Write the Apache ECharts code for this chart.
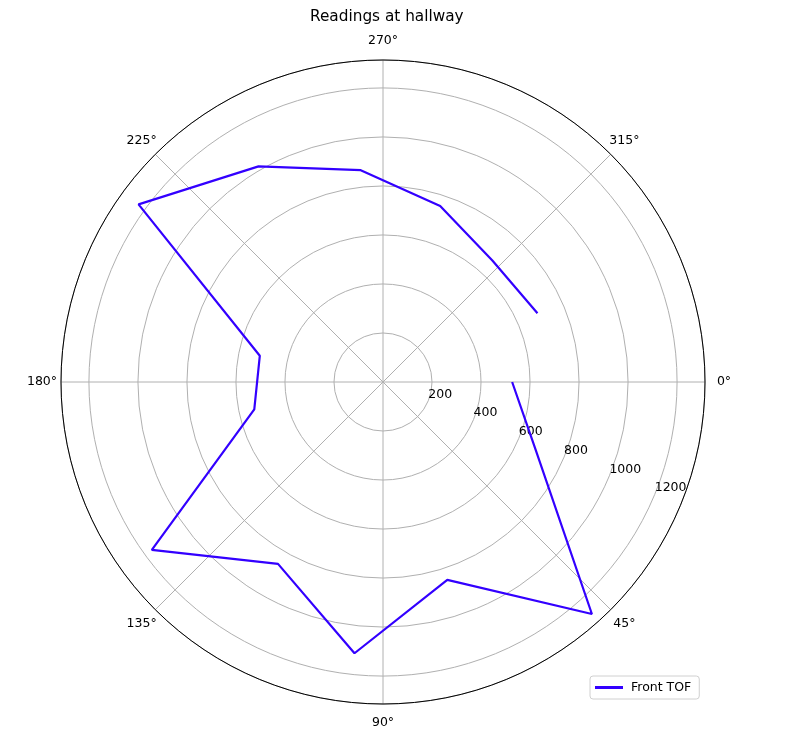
<!DOCTYPE html>
<html>
<head>
<meta charset="utf-8">
<script src="https://cdn.jsdelivr.net/npm/echarts@6/dist/echarts.min.js"></script>
<style>
html,body{margin:0;padding:0;background:#fff;}
#chart{width:802px;height:737px;}
</style>
</head>
<body>
<div id="chart"></div>
<script>
// Data
var angles = [0, 24, 48, 72, 96, 120, 144, 168, 192, 216, 240, 264, 288, 312, 336];
var frontTOF = [527, 682, 1274, 849, 1113, 857, 1166, 537, 514, 1233, 1016, 869, 755, 667, 690];
var seriesName = 'Front TOF';
var titleText = 'Readings at hallway';
var radialTicks = [200, 400, 600, 800, 1000, 1200];
var angleTicks = [0, 45, 90, 135, 180, 225, 270, 315];

var rMax = 1314;
var FONT = 'DejaVu Sans';

var chart = echarts.init(document.getElementById('chart'), null, {renderer: 'canvas'});
var center = [383, 382];
var radius = 322;

chart.setOption({
  animation: false,
  backgroundColor: '#fff',
  title: {
    text: titleText,
    left: 305,
    top: 5,
    textStyle: {fontFamily: FONT, fontSize: 15.3, fontWeight: 'normal', color: '#000'}
  },
  legend: {
    data: [seriesName],
    left: 590,
    top: 676,
    orient: 'vertical',
    padding: [5, 8, 5, 5],
    borderColor: '#d0d0d0',
    borderWidth: 1,
    borderRadius: 3,
    itemWidth: 28,
    itemHeight: 3,
    icon: 'rect',
    itemGap: 0,
    textStyle: {fontFamily: FONT, fontSize: 12.5, color: '#000', padding: [0, 0, 0, 3]}
  },
  polar: [
    {center: center, radius: radius},
    {center: center, radius: radius}
  ],
  angleAxis: [
    {
      polarIndex: 0,
      type: 'value',
      min: 0,
      max: 360,
      interval: 45,
      startAngle: 0,
      clockwise: true,
      axisLine: {show: true, lineStyle: {color: '#000', width: 1}},
      axisTick: {show: false},
      splitLine: {show: true, lineStyle: {color: '#b0b0b0', width: 1}},
      axisLabel: {
        show: true,
        margin: 18,
        formatter: function (v) {
          return angleTicks.indexOf(v) >= 0 ? '{a|' + v + '°}' : '';
        },
        rich: {
          a: {
            width: 2,
            lineHeight: 2,
            align: 'center',
            verticalAlign: 'middle',
            fontFamily: FONT,
            fontSize: 12.5,
            color: '#000'
          }
        }
      }
    },
    {
      polarIndex: 1,
      type: 'value',
      min: 0,
      max: 360,
      startAngle: -22.5,
      clockwise: true,
      show: false
    }
  ],
  radiusAxis: [
    {
      polarIndex: 0,
      type: 'value',
      min: 0,
      max: rMax,
      interval: 200,
      axisLine: {show: false},
      axisTick: {show: false},
      axisLabel: {show: false},
      splitLine: {show: true, lineStyle: {color: '#b0b0b0', width: 1}}
    },
    {
      polarIndex: 1,
      type: 'value',
      min: 0,
      max: rMax,
      interval: 200,
      axisLine: {show: false},
      axisTick: {show: false},
      splitLine: {show: false},
      axisLabel: {
        show: true,
        margin: 0,
        align: 'left',
        verticalAlign: 'bottom',
        showMinLabel: false,
        showMaxLabel: false,
        fontFamily: FONT,
        fontSize: 12.5,
        color: '#000',
        formatter: function (v) {
          return radialTicks.indexOf(v) >= 0 ? String(v) : '';
        }
      }
    }
  ],
  series: [
    {
      name: seriesName,
      type: 'line',
      coordinateSystem: 'polar',
      polarIndex: 0,
      symbol: 'none',
      data: angles.map(function (a, i) { return [frontTOF[i], a]; }),
      lineStyle: {color: '#3300ff', width: 2.2},
      itemStyle: {color: '#3300ff'},
      z: 5
    }
  ]
});
</script>
</body>
</html>
